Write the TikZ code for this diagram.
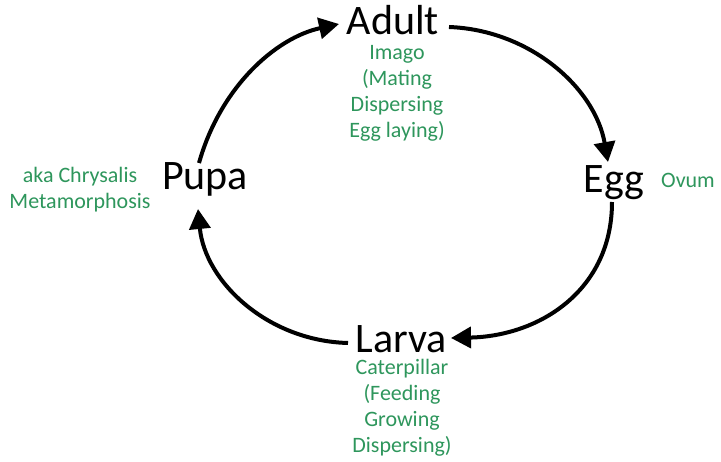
\documentclass[tikz,border=0pt]{standalone}
\usepackage{fontspec}
\setmainfont{Carlito}
\usetikzlibrary{arrows.meta}
\definecolor{lblgreen}{RGB}{46,150,92}
\tikzset{
  stage/.style={font=\fontsize{42}{46}\selectfont, inner sep=0pt, anchor=base, text=black},
  note/.style={font=\fontsize{22}{26.3}\selectfont, inner sep=0pt, anchor=base, text=lblgreen, align=center},
  cyc/.style={line width=4pt, -{Triangle[length=20pt,width=21pt]}}
}
\begin{document}
\begin{tikzpicture}[x=1pt,y=-1pt]
\useasboundingbox (0,0) rectangle (721,462);
\node[stage] (adult) at (393,35) {Adult};
\node[stage] (egg) at (614,193) {Egg};
\node[stage] (larva) at (401,353) {Larva};
\node[stage] (pupa) at (205,190) {Pupa};
\node[note] (imago) at (397,138) {Imago\\(Mating\\Dispersing\\Egg laying)};
\node[note] (ovum) at (688,188) {Ovum};
\node[note] (cater) at (402,453) {Caterpillar\\(Feeding\\Growing\\Dispersing)};
\node[note] (chrys) at (80,209) {aka Chrysalis\\Metamorphosis};
\coordinate (p1s) at (199,163);
\coordinate (a1e) at (339,24);
\coordinate (a2s) at (449,27);
\coordinate (e2e) at (608,162);
\coordinate (e3s) at (612,202);
\coordinate (l3e) at (451,338);
\coordinate (l4s) at (348,343);
\coordinate (p4e) at (198,209);
\draw[cyc] (p1s) .. controls (220,88) and (275,38) .. (a1e);
\draw[cyc] (a2s) .. controls (530,30) and (595,88) .. (e2e);
\draw[cyc] (e3s) .. controls (612,290) and (540,336) .. (l3e);
\draw[cyc] (l4s) .. controls (268,341) and (205,282) .. (p4e);
\end{tikzpicture}
\end{document}
